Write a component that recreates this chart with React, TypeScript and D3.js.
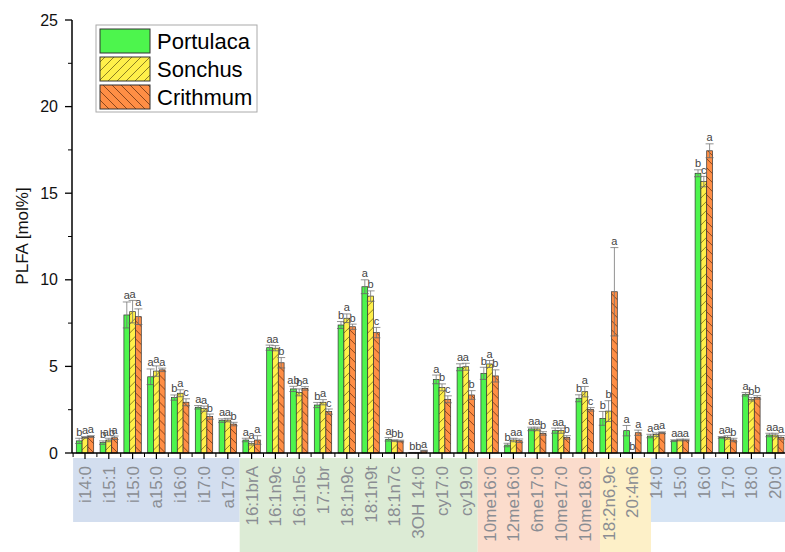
import React from "react";
import * as d3 from "d3";

const categories = ["i14:0","i15:1","i15:0","a15:0","i16:0","i17:0","a17:0","16:1brA","16:1n9c","16:1n5c","17:1br","18:1n9c","18:1n9t","18:1n7c","3OH 14:0","cy17:0","cy19:0","10me16:0","12me16:0","6me17:0","10me17:0","10me18:0","18:2n6,9c","20:4n6","14:0","15:0","16:0","17:0","18:0","20:0"];
const seriesNames = ["Portulaca","Sonchus","Crithmum"];
const portulaca = [0.7,0.6,7.97,4.4,3.2,2.64,1.87,0.75,6.08,3.7,2.77,7.39,9.6,0.79,0.02,4.25,4.95,4.6,0.46,1.39,1.29,3.16,2.0,1.29,0.98,0.71,16.15,0.9,3.39,1.04];
const sonchus = [0.9,0.75,8.16,4.73,3.45,2.56,1.9,0.56,6.05,3.5,2.93,7.78,9.06,0.71,0.02,3.79,4.98,5.14,0.75,1.39,1.29,3.54,2.42,0.02,1.06,0.75,15.67,0.9,3.1,1.04];
const crithmum = [0.95,0.88,7.87,4.8,2.93,2.1,1.67,0.75,5.21,3.73,2.39,7.29,6.95,0.69,0.13,3.1,3.35,4.45,0.71,1.13,0.9,2.52,9.31,1.17,1.17,0.75,17.45,0.75,3.21,0.9];
const errP = [0.15,0.1,0.75,0.45,0.15,0.1,0.1,0.1,0.15,0.15,0.15,0.2,0.4,0.1,0.01,0.25,0.2,0.35,0.1,0.1,0.15,0.2,0.4,0.3,0.1,0.05,0.2,0.05,0.1,0.1];
const errS = [0.05,0.1,0.65,0.3,0.2,0.15,0.1,0.1,0.15,0.2,0.15,0.25,0.3,0.05,0.01,0.2,0.2,0.2,0.1,0.1,0.15,0.3,0.6,0.01,0.1,0.05,0.3,0.1,0.1,0.1];
const errC = [0.05,0.1,0.45,0.1,0.2,0.15,0.1,0.25,0.3,0.1,0.15,0.15,0.3,0.05,0.03,0.2,0.25,0.35,0.1,0.1,0.1,0.1,2.55,0.15,0.05,0.05,0.4,0.1,0.1,0.1];
const lettersP = ["b","b","a","a","b","a","a","a","a","ab","b","b","a","a","b","a","a","b","b","a","a","b","b","a","a","a","b","a","a","a"];
const lettersS = ["a","ab","a","a","a","a","a","a","a","b","a","a","b","b","b","b","a","a","a","a","a","a","b","b","a","a","c","a","b","a"];
const lettersC = ["a","a","a","a","c","b","b","a","b","a","c","b","c","b","a","c","b","b","a","b","b","c","a","a","a","a","a","b","b","a"];
const yTicks = [0,5,10,15,20,25];
const bands = [
  { from: 0, to: 7, color: "#d3deef", deep: true },
  { from: 7, to: 17, color: "#dcebd5", deep: false },
  { from: 17, to: 22.14, color: "#fbdccc", deep: false },
  { from: 22.14, to: 24.28, color: "#fdf0c8", deep: false },
  { from: 24.28, to: 30, color: "#d6e4f4", deep: true },
];

const values = [portulaca, sonchus, crithmum];
const errs = [errP, errS, errC];
const letters = [lettersP, lettersS, lettersC];
const fills = ["#4df54d", "url(#hatchS)", "url(#hatchC)"];

export default function App() {
  const W = 785, H = 552;
  const x = d3.scaleBand<string>().domain(categories).range([73.1, 787.1]).paddingInner(0).paddingOuter(0);
  const step = x.bandwidth();
  const xs = d3.scaleBand<string>().domain(seriesNames).range([3.2, 20.6]).padding(0);
  const bw = xs.bandwidth();
  const y = d3.scaleLinear().domain([0, 25]).range([453, 20]);
  const axisY = 453;
  const axisX = 72;
  const font = "Arial, 'Liberation Sans', sans-serif";
  const bandPos = (u: number) => 73.1 + u * step;
  const minorY = d3.range(2.5, 25, 5);

  return (
    <svg width={W} height={H} style={{ position: "absolute", left: 0, top: 0, display: "block", background: "#fff" }} fontFamily={font}>
      <defs>
        <pattern id="hatchS" patternUnits="userSpaceOnUse" width="9" height="9">
          <rect width="9" height="9" fill="#fff04a" />
          <path d="M-1,1 l2,-2 M0,9 l9,-9 M8,10 l2,-2" stroke="#6e6216" strokeWidth="0.8" />
        </pattern>
        <pattern id="hatchC" patternUnits="userSpaceOnUse" width="9" height="9">
          <rect width="9" height="9" fill="#ff8e45" />
          <path d="M-1,8 l2,2 M0,0 l9,9 M8,-1 l2,2" stroke="#6e3410" strokeWidth="0.8" />
        </pattern>
      </defs>

      {/* category bands */}
      {bands.map((b, i) => (
        <rect key={i} x={bandPos(b.from)} y={458} width={bandPos(b.to) - bandPos(b.from)} height={b.deep ? 64 : 94} fill={b.color} />
      ))}

      {/* x labels */}
      {categories.map((c) => {
        const cx = (x(c) as number) + step / 2;
        return (
          <text key={c} transform={`translate(${cx},${466}) rotate(-90)`} textAnchor="end" dy="0.35em" fontSize={17} fill="#8a8d93">{c}</text>
        );
      })}

      {/* bars */}
      {categories.map((c, i) => (
        <g key={c} transform={`translate(${x(c)},0)`}>
          {seriesNames.map((s, k) => {
            const v = values[k][i];
            const e = errs[k][i];
            const bx = xs(s) as number;
            const cx = bx + bw / 2;
            return (
              <g key={s}>
                <rect x={bx} y={y(v)} width={bw} height={Math.max(0, axisY - y(v))} fill={fills[k]} stroke="#333" strokeWidth={0.7} />
                <line x1={cx} x2={cx} y1={y(Math.max(0, v - e))} y2={y(v + e)} stroke="#777" strokeWidth={0.8} />
                <line x1={cx - 4} x2={cx + 4} y1={y(v + e)} y2={y(v + e)} stroke="#777" strokeWidth={0.8} />
                <line x1={cx - 4} x2={cx + 4} y1={y(Math.max(0, v - e))} y2={y(Math.max(0, v - e))} stroke="#666" strokeWidth={0.8} />
                <text x={cx} y={y(v + e) - 2.5} textAnchor="middle" fontSize={11} fill="#444">{letters[k][i]}</text>
              </g>
            );
          })}
        </g>
      ))}

      {/* x axis */}
      <line x1={axisX} x2={W} y1={axisY} y2={axisY} stroke="#000" strokeWidth={1.5} />
      {categories.map((c) => {
        const cx = (x(c) as number) + step / 2;
        return <line key={c} x1={cx} x2={cx} y1={axisY} y2={axisY + 6} stroke="#000" strokeWidth={1.2} />;
      })}
      {d3.range(0, 31).map((k) => {
        const bx = 73.1 + k * step;
        return <line key={k} x1={bx} x2={bx} y1={axisY} y2={axisY + 4} stroke="#000" strokeWidth={1} />;
      })}

      {/* y axis */}
      <line x1={axisX} x2={axisX} y1={y(25)} y2={axisY} stroke="#000" strokeWidth={1.5} />
      {yTicks.map((t) => (
        <g key={t}>
          <line x1={axisX - 7} x2={axisX} y1={y(t)} y2={y(t)} stroke="#000" strokeWidth={1.3} />
          <text x={58} y={y(t)} dy="0.35em" textAnchor="end" fontSize={16} fill="#111">{t}</text>
        </g>
      ))}
      {minorY.map((t) => (
        <line key={t} x1={axisX - 4} x2={axisX} y1={y(t)} y2={y(t)} stroke="#000" strokeWidth={1} />
      ))}
      <text transform={`translate(28,236) rotate(-90)`} textAnchor="middle" fontSize={17} fill="#111">PLFA [mol%]</text>

      {/* legend */}
      <rect x={96} y={25} width={161} height={87} fill="#fff" stroke="#aaa" strokeWidth={1} />
      {seriesNames.map((s, k) => (
        <g key={s}>
          <rect x={100} y={29 + k * 28} width={50} height={24} fill={fills[k]} stroke="#333" strokeWidth={1} />
          <text x={157} y={29 + k * 28 + 20} fontSize={22} fill="#000">{s}</text>
        </g>
      ))}
    </svg>
  );
}
